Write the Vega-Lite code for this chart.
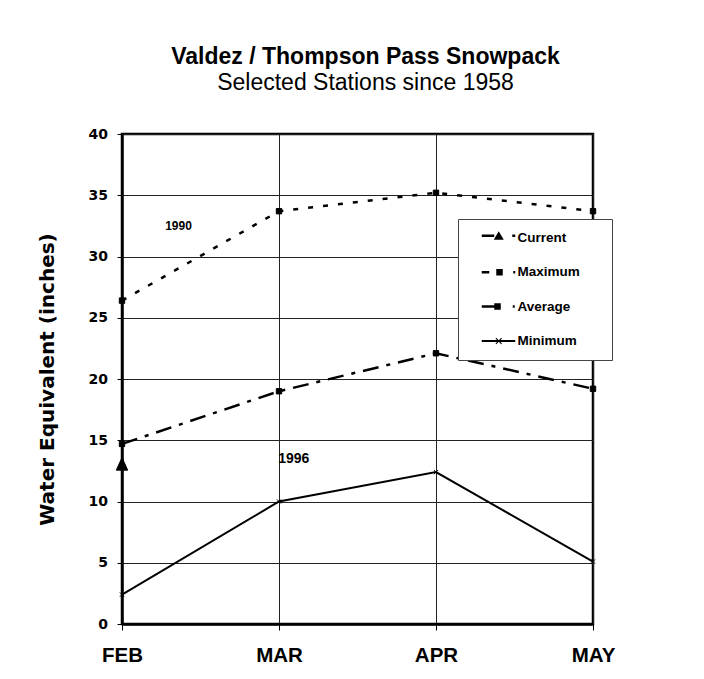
{
  "$schema": "https://vega.github.io/schema/vega-lite/v6.json",
  "autosize": {"type": "none"},
  "width": 471,
  "height": 490,
  "padding": {"left": 122, "top": 134, "right": 111, "bottom": 55},
  "background": "white",
  "title": {
    "text": "Valdez / Thompson Pass Snowpack",
    "subtitle": "Selected Stations since 1958",
    "anchor": "middle",
    "dx": 8,
    "font": "Liberation Sans",
    "fontSize": 23,
    "fontWeight": "bold",
    "color": "black",
    "subtitleFont": "Liberation Sans",
    "subtitleFontSize": 23,
    "subtitleFontWeight": "normal",
    "subtitleColor": "black",
    "subtitlePadding": 3,
    "offset": 32
  },
  "datasets": {
    "snowpack": [
      {"month": "FEB", "idx": 0, "series": "Current", "value": 13.0},
      {"month": "FEB", "idx": 0, "series": "Maximum", "value": 26.4},
      {"month": "MAR", "idx": 1, "series": "Maximum", "value": 33.7},
      {"month": "APR", "idx": 2, "series": "Maximum", "value": 35.2},
      {"month": "MAY", "idx": 3, "series": "Maximum", "value": 33.7},
      {"month": "FEB", "idx": 0, "series": "Average", "value": 14.7},
      {"month": "MAR", "idx": 1, "series": "Average", "value": 19.0},
      {"month": "APR", "idx": 2, "series": "Average", "value": 22.1},
      {"month": "MAY", "idx": 3, "series": "Average", "value": 19.2},
      {"month": "FEB", "idx": 0, "series": "Minimum", "value": 2.4},
      {"month": "MAR", "idx": 1, "series": "Minimum", "value": 10.0},
      {"month": "APR", "idx": 2, "series": "Minimum", "value": 12.4},
      {"month": "MAY", "idx": 3, "series": "Minimum", "value": 5.1}
    ],
    "notes": [
      {"label": "1990", "idx": 0.36, "value": 32.5},
      {"label": "1996", "idx": 1.094, "value": 13.44}
    ]
  },
  "data": {"name": "snowpack"},
  "encoding": {
    "x": {
      "field": "idx",
      "type": "quantitative",
      "scale": {"domain": [0, 3], "nice": false, "zero": false},
      "axis": {
        "title": null,
        "values": [0, 1, 2, 3],
        "labelExpr": "['FEB','MAR','APR','MAY'][datum.value]",
        "labelFlush": false,
        "labelFont": "Liberation Sans",
        "labelFontSize": 20.5,
        "labelFontWeight": "bold",
        "labelColor": "black",
        "labelPadding": 15,
        "tickSize": 6,
        "tickColor": "black",
        "domainColor": "black",
        "domainWidth": 2.5,
        "grid": true,
        "gridColor": "#222",
        "gridWidth": 1
      }
    },
    "y": {
      "field": "value",
      "type": "quantitative",
      "scale": {"domain": [0, 40], "nice": false},
      "axis": {
        "title": "Water Equivalent (inches)",
        "values": [0, 5, 10, 15, 20, 25, 30, 35, 40],
        "labelFlush": false,
        "labelFont": "DejaVu Sans",
        "labelFontSize": 14,
        "labelFontWeight": "bold",
        "labelColor": "black",
        "labelPadding": 9.5,
        "tickSize": 5,
        "tickColor": "black",
        "domainColor": "black",
        "domainWidth": 2.5,
        "grid": true,
        "gridColor": "#222",
        "gridWidth": 1,
        "titleFont": "DejaVu Sans",
        "titleFontSize": 20,
        "titleFontWeight": "bold",
        "titleColor": "black",
        "titlePadding": 31
      }
    }
  },
  "layer": [
    {
      "data": {"values": [{}]},
      "mark": {"type": "rect", "fill": "white", "strokeWidth": 0},
      "encoding": {
        "x": {"datum": 0.72, "type": "quantitative"},
        "x2": {"datum": 1.47},
        "y": {"datum": 11.76, "type": "quantitative"},
        "y2": {"datum": 15.1}
      }
    },
    {
      "transform": [{"filter": "datum.series === 'Maximum'"}],
      "mark": {"type": "line", "color": "black", "strokeWidth": 2.5, "strokeDash": [5, 10]},
      "encoding": {"order": {"field": "idx"}}
    },
    {
      "transform": [{"filter": "datum.series === 'Average'"}],
      "mark": {"type": "line", "color": "black", "strokeWidth": 2.5, "strokeDash": [16, 8, 4, 8]},
      "encoding": {"order": {"field": "idx"}}
    },
    {
      "transform": [{"filter": "datum.series === 'Minimum'"}],
      "mark": {"type": "line", "color": "black", "strokeWidth": 2},
      "encoding": {"order": {"field": "idx"}}
    },
    {
      "mark": {"type": "point", "filled": true, "fill": "black", "stroke": "black", "strokeWidth": 1, "size": 36, "opacity": 1},
      "encoding": {
        "shape": {
          "field": "series",
          "type": "nominal",
          "scale": {
            "domain": ["Current", "Maximum", "Average", "Minimum"],
            "range": ["M-1.9,1.8L0,-2.4L1.9,1.8Z", "M-0.9,-0.9H0.9V0.9H-0.9Z", "M-0.9,-0.9H0.9V0.9H-0.9Z", "M-0.7,-0.7L0.7,0.7M-0.7,0.7L0.7,-0.7"]
          },
          "legend": null
        }
      }
    },
    {
      "transform": [{"filter": "false"}],
      "mark": {"type": "point", "filled": true, "fill": "black", "strokeWidth": 0, "opacity": 1},
      "encoding": {
        "shape": {
          "field": "series",
          "type": "nominal",
          "scale": {
            "domain": ["Current", "Maximum", "Average", "Minimum"],
            "range": [
              "M-3.4,-0.65H-0.9V-0.15H-3.4Z M-1,0.4L0,-1.3L1,0.4Z M2.7,-0.65H3.3V-0.15H2.7Z",
              "M-3.4,-0.25H-1.9V0.25H-3.4Z M-0.5,-0.65H0.8V0.65H-0.5Z M2.9,-0.25H3.3V0.25H2.9Z",
              "M-3.4,-0.25H-0.8V0.25H-3.4Z M-0.9,-0.65H0.4V0.65H-0.9Z M2.8,-0.25H3.2V0.25H2.8Z",
              "M-3.4,-0.2H3.3V0.2H-3.4Z M-0.65,-0.5L-0.5,-0.65L0.65,0.5L0.5,0.65Z M-0.65,0.5L0.5,-0.65L0.65,-0.5L-0.5,0.65Z"
            ]
          },
          "legend": {
            "title": null,
            "orient": "none",
            "legendX": 336,
            "legendY": 85,
            "padding": 12,
            "fillColor": "white",
            "strokeColor": "#444",
            "symbolSize": 100,
            "symbolStrokeWidth": 0,
            "symbolFillColor": "black",
            "symbolOpacity": 1,
            "symbolOffset": 22,
            "labelOffset": 12,
            "rowPadding": 19.4,
            "labelFont": "Liberation Sans",
            "labelFontSize": 13.5,
            "labelFontWeight": "bold",
            "labelColor": "black",
            "labelExpr": "datum.label + '\u2800\u2800'"
          }
        }
      }
    },
    {
      "data": {"name": "notes"},
      "transform": [{"filter": "datum.label === '1990'"}],
      "mark": {"type": "text", "font": "Liberation Sans", "fontWeight": "bold", "fontSize": 12, "color": "black"},
      "encoding": {"text": {"field": "label"}}
    },
    {
      "data": {"name": "notes"},
      "transform": [{"filter": "datum.label === '1996'"}],
      "mark": {"type": "text", "font": "Liberation Sans", "fontWeight": "bold", "fontSize": 14, "color": "black"},
      "encoding": {"text": {"field": "label"}}
    }
  ],
  "resolve": {"scale": {"shape": "independent"}},
  "config": {
    "view": {"stroke": "black", "strokeWidth": 2.5}
  }
}
